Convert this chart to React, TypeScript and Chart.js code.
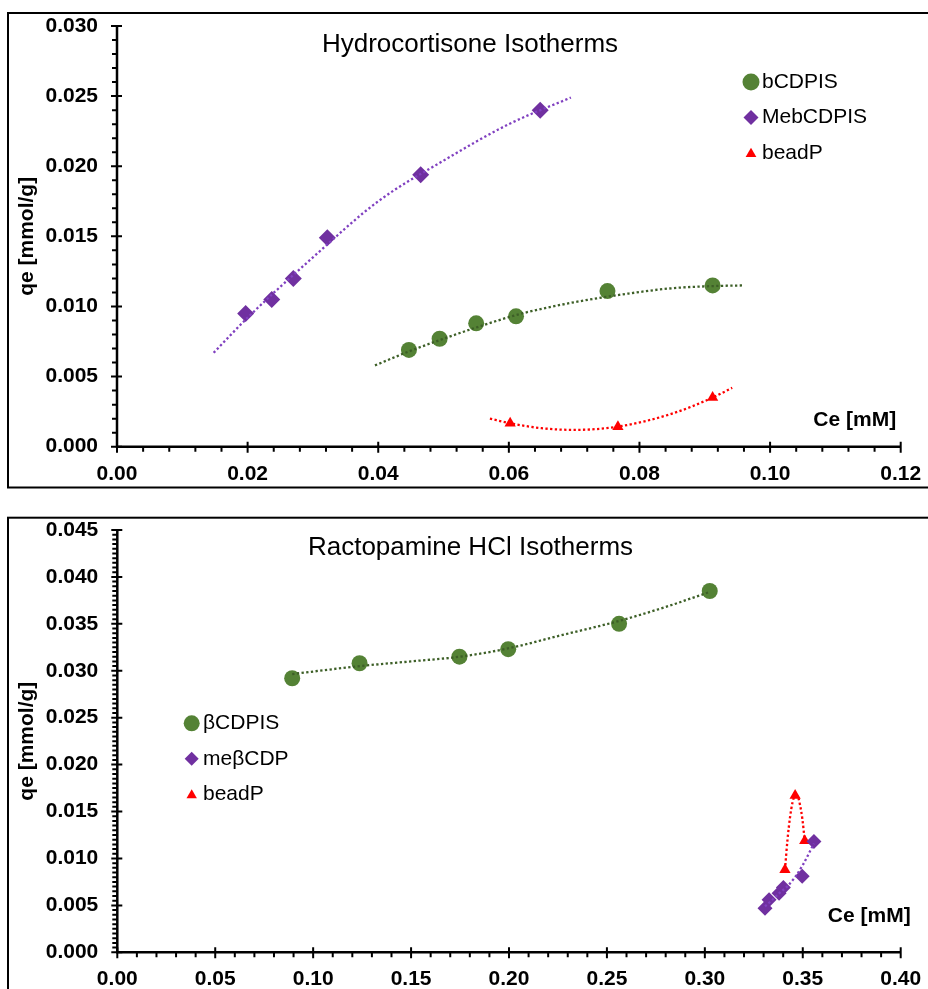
import React, { useEffect, useRef } from 'react';
import { Chart, registerables } from 'chart.js';

Chart.register(...registerables);

const FONT = '"Liberation Sans", Arial, Helvetica, sans-serif';

const GREEN = '#548235';
const GREEN_TREND = '#3d5f27';
const PURPLE = '#7030a0';
const PURPLE_TREND = '#8040c0';
const RED = '#ff0000';

// ---------- Hydrocortisone isotherms (Ce in mM, qe in mmol/g) ----------
const hcSeriesNames = ['bCDPIS', 'MebCDPIS', 'beadP'];

const hcBcdpisCe = [0.0447, 0.0494, 0.055, 0.0611, 0.0751, 0.0912];
const hcBcdpisQe = [0.0069, 0.0077, 0.0088, 0.0093, 0.0111, 0.0115];

const hcMebcdpisCe = [0.0197, 0.0237, 0.027, 0.0322, 0.0465, 0.0648];
const hcMebcdpisQe = [0.0095, 0.0105, 0.012, 0.0149, 0.0194, 0.024];

const hcBeadPCe = [0.0602, 0.0767, 0.0912];
const hcBeadPQe = [0.00167, 0.00143, 0.0035];

// 2nd-order polynomial trend lines
const hcBcdpisTrendCe = [0.0395, 0.045, 0.05, 0.055, 0.062, 0.07, 0.078, 0.085, 0.091, 0.0959];
const hcBcdpisTrendQe = [0.0058, 0.00685, 0.0077, 0.0085, 0.0095, 0.0103, 0.0109, 0.0113, 0.01145, 0.0115];

const hcMebcdpisTrendCe = [0.0148, 0.02, 0.03, 0.04, 0.05, 0.06, 0.0695];
const hcMebcdpisTrendQe = [0.0067, 0.0092, 0.0135, 0.0175, 0.0204, 0.023, 0.0249];

const hcBeadPTrendCe = [0.0571, 0.0602, 0.065, 0.07, 0.0767, 0.085, 0.0912, 0.0942];
const hcBeadPTrendQe = [0.002, 0.00167, 0.00132, 0.0012, 0.00143, 0.00236, 0.0035, 0.0042];

// ---------- Ractopamine HCl isotherms ----------
const rcSeriesNames = ['βCDPIS', 'meβCDP', 'beadP'];

const rcBcdpisCe = [0.0893, 0.1237, 0.1747, 0.1996, 0.2562, 0.3025];
const rcBcdpisQe = [0.0292, 0.0308, 0.0315, 0.0323, 0.035, 0.0385];

const rcMebcdpCe = [0.3307, 0.3328, 0.3379, 0.3401, 0.3497, 0.3557];
const rcMebcdpQe = [0.0047, 0.0056, 0.0063, 0.0069, 0.0081, 0.0118];

const rcBeadPCe = [0.3409, 0.3461, 0.351];
const rcBeadPQe = [0.0088, 0.0167, 0.0119];

const rcBcdpisTrendCe = [0.0893, 0.124, 0.15, 0.175, 0.2, 0.225, 0.256, 0.28, 0.3025];
const rcBcdpisTrendQe = [0.02965, 0.0305, 0.031, 0.0315, 0.0324, 0.0337, 0.0353, 0.0368, 0.0384];

const rcMebcdpTrendCe = [0.3307, 0.334, 0.338, 0.342, 0.346, 0.35, 0.3557];
const rcMebcdpTrendQe = [0.0049, 0.0055, 0.0063, 0.007, 0.008, 0.0093, 0.0116];

const rcBeadPTrendCe = [0.3409, 0.3422, 0.3435, 0.3448, 0.3461, 0.3474, 0.3486, 0.3498, 0.351];
const rcBeadPTrendQe = [0.00878, 0.012, 0.0144, 0.016, 0.01669, 0.0166, 0.0157, 0.0142, 0.01189];

const zip = (xs: number[], ys: number[]) => xs.map((x, i) => ({ x, y: ys[i] }));

type Shape = 'circle' | 'diamond' | 'triangle';

function drawShape(ctx: CanvasRenderingContext2D, shape: Shape, x: number, y: number, r: number, color: string) {
  ctx.fillStyle = color;
  ctx.beginPath();
  if (shape === 'circle') {
    ctx.arc(x, y, r, 0, Math.PI * 2);
  } else if (shape === 'diamond') {
    ctx.moveTo(x, y - r);
    ctx.lineTo(x + r, y);
    ctx.lineTo(x, y + r);
    ctx.lineTo(x - r, y);
  } else {
    const s = Math.sin(Math.PI / 3) * r;
    ctx.moveTo(x, y - r);
    ctx.lineTo(x + s, y + r / 2);
    ctx.lineTo(x - s, y + r / 2);
  }
  ctx.closePath();
  ctx.fill();
}

// Frame, axis lines with major/minor ticks, title, axis caption and legend
const decorPlugin = {
  id: 'decor',
  afterDraw(chart: any, _args: any, opts: any) {
    const { ctx, chartArea } = chart;
    const xs = chart.scales.x;
    const ys = chart.scales.y;
    const { left, right, top, bottom } = chartArea;
    ctx.save();

    ctx.strokeStyle = '#000';
    ctx.lineWidth = 2;
    const f = opts.frame;
    ctx.strokeRect(f[0], f[1], f[2], f[3]);

    // axis lines
    ctx.lineWidth = 2.5;
    ctx.beginPath();
    ctx.moveTo(left, top);
    ctx.lineTo(left, bottom);
    ctx.lineTo(right, bottom);
    ctx.stroke();

    ctx.lineWidth = 2;
    ctx.beginPath();
    // minor ticks (outside)
    for (let i = 0; ; i++) {
      const v = xs.min + i * opts.minorX;
      if (v > xs.max + 1e-12) break;
      const px = xs.getPixelForValue(v);
      ctx.moveTo(px, bottom);
      ctx.lineTo(px, bottom + 5);
    }
    for (let i = 0; ; i++) {
      const v = ys.min + i * opts.minorY;
      if (v > ys.max + 1e-12) break;
      const py = ys.getPixelForValue(v);
      ctx.moveTo(left, py);
      ctx.lineTo(left - 5, py);
    }
    // major ticks (cross)
    xs.ticks.forEach((t: any) => {
      const px = xs.getPixelForValue(t.value);
      ctx.moveTo(px, bottom - 5);
      ctx.lineTo(px, bottom + 6);
    });
    ys.ticks.forEach((t: any) => {
      const py = ys.getPixelForValue(t.value);
      ctx.moveTo(left - 6, py);
      ctx.lineTo(left + 5, py);
    });
    ctx.stroke();

    // chart title
    ctx.fillStyle = '#000';
    ctx.font = `26px ${FONT}`;
    ctx.textAlign = 'center';
    ctx.textBaseline = 'middle';
    ctx.fillText(opts.title, opts.titleX, opts.titleY);

    // x axis caption
    ctx.font = `bold 21px ${FONT}`;
    ctx.textAlign = 'right';
    ctx.fillText('Ce [mM]', right + opts.xCapDx, bottom + opts.xCapDy);

    // legend
    const lg = opts.legend;
    lg.items.forEach((it: any, i: number) => {
      const y = lg.y + i * lg.dy;
      drawShape(ctx, it.shape, lg.markerX, it.shape === 'triangle' ? y + 1 : y, it.r, it.color);
      ctx.fillStyle = '#000';
      ctx.font = `21px ${FONT}`;
      ctx.textAlign = 'left';
      ctx.textBaseline = 'middle';
      ctx.fillText(it.label, lg.textX, y);
    });
    ctx.restore();
  },
};

const tickFont = { family: FONT, size: 21, weight: 'bold' as const };

function markerSet(label: string, xs: number[], ys: number[], color: string, style: string, r: number) {
  return {
    label,
    data: zip(xs, ys),
    pointStyle: style,
    pointRadius: r,
    backgroundColor: color,
    borderColor: color,
    borderWidth: 0,
    showLine: false,
    order: 2,
  };
}

function trendSet(xs: number[], ys: number[], color: string) {
  return {
    label: 'trend',
    data: zip(xs, ys),
    showLine: true,
    pointRadius: 0,
    borderColor: color,
    borderWidth: 2.3,
    borderDash: [2.3, 2.4],
    cubicInterpolationMode: 'monotone',
    fill: false,
    order: 1,
  };
}

function makeConfig(p: any): any {
  return {
    type: 'scatter',
    data: { datasets: p.datasets },
    plugins: [decorPlugin],
    options: {
      responsive: false,
      animation: false,
      events: [],
      layout: { padding: p.padding },
      plugins: {
        legend: { display: false },
        tooltip: { enabled: false },
        decor: p.decor,
      },
      scales: {
        x: {
          type: 'linear',
          min: p.xMin,
          max: p.xMax,
          grid: { display: false, drawTicks: false },
          border: { display: false },
          ticks: {
            stepSize: p.xStep,
            padding: 14.5,
            color: '#000',
            font: tickFont,
            maxRotation: 0,
            autoSkip: false,
            callback: (v: any) => Number(v).toFixed(2),
          },
          afterFit: (s: any) => {
            s.height = p.xAxisHeight;
            s.paddingLeft = 0;
            s.paddingRight = 0;
          },
        },
        y: {
          type: 'linear',
          min: p.yMin,
          max: p.yMax,
          grid: { display: false, drawTicks: false },
          border: { display: false },
          ticks: {
            stepSize: p.yStep,
            padding: 19,
            color: '#000',
            font: tickFont,
            autoSkip: false,
            callback: (v: any) => Number(v).toFixed(3),
          },
          title: {
            display: true,
            text: 'qe [mmol/g]',
            color: '#000',
            font: tickFont,
            padding: { top: 15, bottom: 0 },
          },
          afterFit: (s: any) => {
            s.width = p.yAxisWidth;
            s.paddingTop = 0;
            s.paddingBottom = 0;
          },
        },
      },
    },
  };
}

const hydrocortisoneConfig = () =>
  makeConfig({
    datasets: [
      trendSet(hcBcdpisTrendCe, hcBcdpisTrendQe, GREEN_TREND),
      trendSet(hcMebcdpisTrendCe, hcMebcdpisTrendQe, PURPLE_TREND),
      trendSet(hcBeadPTrendCe, hcBeadPTrendQe, RED),
      markerSet(hcSeriesNames[0], hcBcdpisCe, hcBcdpisQe, GREEN, 'circle', 8),
      markerSet(hcSeriesNames[1], hcMebcdpisCe, hcMebcdpisQe, PURPLE, 'rectRot', 8.5),
      markerSet(hcSeriesNames[2], hcBeadPCe, hcBeadPQe, RED, 'triangle', 6.5),
    ],
    xMin: 0,
    xMax: 0.12,
    xStep: 0.02,
    yMin: 0,
    yMax: 0.03,
    yStep: 0.005,
    yAxisWidth: 117,
    xAxisHeight: 45,
    padding: { left: 0, right: 27.3, top: 26, bottom: 8.3 },
    decor: {
      frame: [8, 13, 960, 474.5],
      minorX: 0.004,
      minorY: 0.001,
      title: 'Hydrocortisone Isotherms',
      titleX: 470,
      titleY: 45,
      xCapDx: -4.5,
      xCapDy: -26.5,
      legend: {
        markerX: 751,
        textX: 762,
        y: 82,
        dy: 35.5,
        items: [
          { label: hcSeriesNames[0], shape: 'circle', r: 8.5, color: GREEN },
          { label: hcSeriesNames[1], shape: 'diamond', r: 7.5, color: PURPLE },
          { label: hcSeriesNames[2], shape: 'triangle', r: 6.2, color: RED },
        ],
      },
    },
  });

const ractopamineConfig = () =>
  makeConfig({
    datasets: [
      trendSet(rcBcdpisTrendCe, rcBcdpisTrendQe, GREEN_TREND),
      trendSet(rcMebcdpTrendCe, rcMebcdpTrendQe, PURPLE_TREND),
      trendSet(rcBeadPTrendCe, rcBeadPTrendQe, RED),
      markerSet(rcSeriesNames[0], rcBcdpisCe, rcBcdpisQe, GREEN, 'circle', 8),
      markerSet(rcSeriesNames[1], rcMebcdpCe, rcMebcdpQe, PURPLE, 'rectRot', 7.5),
      markerSet(rcSeriesNames[2], rcBeadPCe, rcBeadPQe, RED, 'triangle', 6.5),
    ],
    xMin: 0,
    xMax: 0.4,
    xStep: 0.05,
    yMin: 0,
    yMax: 0.045,
    yStep: 0.005,
    yAxisWidth: 117.3,
    xAxisHeight: 36.7,
    padding: { left: 0, right: 27.3, top: 30, bottom: 0 },
    decor: {
      frame: [8, 17.7, 960, 600],
      minorX: 0.01,
      minorY: 0.0005,
      title: 'Ractopamine HCl Isotherms',
      titleX: 470.5,
      titleY: 48.3,
      xCapDx: 10,
      xCapDy: -35.6,
      legend: {
        markerX: 191.7,
        textX: 203,
        y: 223.3,
        dy: 35.5,
        items: [
          { label: rcSeriesNames[0], shape: 'circle', r: 8, color: GREEN },
          { label: rcSeriesNames[1], shape: 'diamond', r: 7, color: PURPLE },
          { label: rcSeriesNames[2], shape: 'triangle', r: 6, color: RED },
        ],
      },
    },
  });

function ChartCanvas({ makeCfg, top, height }: { makeCfg: () => any; top: number; height: number }) {
  const ref = useRef<HTMLCanvasElement | null>(null);
  useEffect(() => {
    if (!ref.current) return;
    const chart = new Chart(ref.current, makeCfg());
    return () => chart.destroy();
  }, [makeCfg]);
  return (
    <canvas
      ref={ref}
      width={928}
      height={height}
      style={{ position: 'absolute', left: 0, top, width: 928, height, display: 'block' }}
    />
  );
}

export default function App() {
  return (
    <div style={{ position: 'absolute', left: 0, top: 0, width: 928, height: 989, overflow: 'hidden', background: '#fff' }}>
      <ChartCanvas makeCfg={hydrocortisoneConfig} top={0} height={500} />
      <ChartCanvas makeCfg={ractopamineConfig} top={500} height={489} />
    </div>
  );
}
